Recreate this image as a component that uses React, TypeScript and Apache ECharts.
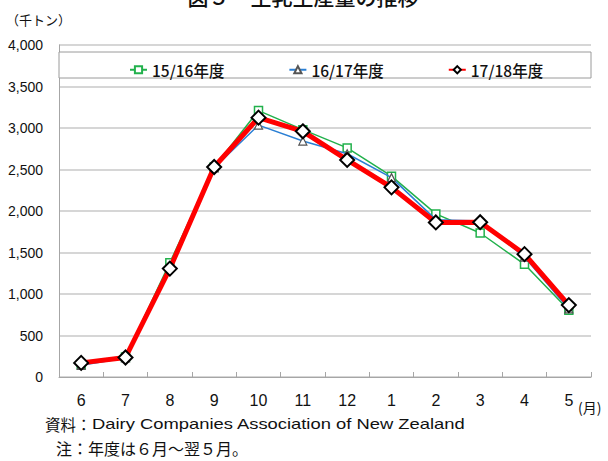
import React, { useEffect, useRef } from "react";
import * as echarts from "echarts";

const months = ["6", "7", "8", "9", "10", "11", "12", "1", "2", "3", "4", "5"];
const s1516 = [150, 240, 1378, 2530, 3210, 2980, 2760, 2420, 1965, 1735, 1358, 805];
const s1617 = [140, 230, 1330, 2520, 3035, 2843, 2690, 2402, 1896, 1880, 1445, 820];
const s1718 = [170, 235, 1306, 2530, 3125, 2960, 2615, 2285, 1862, 1865, 1480, 866];
const yTicks = [0, 500, 1000, 1500, 2000, 2500, 3000, 3500, 4000];
const seriesNames = ["15/16年度", "16/17年度", "17/18年度"];

const JP = '"Noto Sans CJK JP", "Noto Sans", sans-serif';
const ARIAL = '"Liberation Sans", Arial, "Noto Sans CJK JP", sans-serif';

export default function App() {
  const ref = useRef<HTMLDivElement>(null);
  useEffect(() => {
    if (!ref.current) return;
    const chart = echarts.init(ref.current, null, { renderer: "svg" });
    chart.setOption({
      animation: false,
      backgroundColor: "#ffffff",
      grid: { left: 59, right: 17, top: 45, bottom: 84, containLabel: false },
      legend: {
        left: 124,
        top: 57,
        itemGap: 64,
        itemWidth: 17,
        itemHeight: 9,
        data: seriesNames,
        textStyle: { fontFamily: JP, fontSize: 15.5, color: "#111", fontWeight: 500 },
        z: 10,
      },
      xAxis: {
        type: "category",
        data: months,
        boundaryGap: true,
        axisLine: { lineStyle: { color: "#a6a6a6", width: 1 } },
        axisTick: { show: true, inside: true, length: 5, lineStyle: { color: "#a6a6a6" } },
        axisLabel: { fontFamily: ARIAL, fontSize: 16, color: "#111", margin: 15 },
        splitLine: { show: false },
      },
      yAxis: {
        type: "value",
        min: yTicks[0],
        max: yTicks[yTicks.length - 1],
        interval: 500,
        axisLine: { show: true, lineStyle: { color: "#a6a6a6", width: 1 } },
        axisTick: { show: false },
        axisLabel: {
          fontFamily: ARIAL,
          fontSize: 14,
          color: "#111",
          margin: 16,
          formatter: (v: number) => v.toLocaleString("en-US"),
        },
        splitLine: { lineStyle: { color: "#c8c8c8", width: 1.5 } },
      },
      graphic: [
        {
          type: "rect",
          z: 5,
          shape: { x: 59, y: 52, width: 532, height: 26 },
          style: { fill: "#ffffff", stroke: "#9a9a9a", lineWidth: 1 },
        },
        {
          type: "text",
          x: 303,
          y: -4,
          style: {
            text: "図５　生乳生産量の推移",
            fontFamily: JP,
            fontSize: 21,
            fontWeight: 500,
            fill: "#111",
            textAlign: "center",
            textVerticalAlign: "middle",
          },
        },
        {
          type: "text",
          x: 6,
          y: 19,
          style: {
            text: "（千トン）",
            fontFamily: JP,
            fontSize: 13,
            fill: "#111",
            textVerticalAlign: "middle",
          },
        },
        {
          type: "text",
          x: 578,
          y: 407,
          style: {
            text: "(月)",
            fontFamily: JP,
            fontSize: 14,
            fill: "#111",
            textVerticalAlign: "middle",
          },
        },
        {
          type: "text",
          x: 45,
          y: 424,
          style: {
            text: "資料：",
            fontFamily: JP,
            fontSize: 15.5,
            fill: "#111",
            textVerticalAlign: "middle",
          },
        },
        {
          type: "text",
          x: 92,
          y: 424,
          scaleX: 1.225,
          style: {
            text: "Dairy Companies Association of New Zealand",
            fontFamily: ARIAL,
            fontSize: 15,
            fill: "#111",
            textVerticalAlign: "middle",
          },
        },
        {
          type: "text",
          x: 56,
          y: 448,
          style: {
            text: "注：年度は６月～翌５月。",
            fontFamily: JP,
            fontSize: 16,
            fill: "#111",
            textVerticalAlign: "middle",
          },
        },
      ],
      series: [
        {
          name: seriesNames[0],
          type: "line",
          data: s1516,
          symbol: "rect",
          symbolSize: 8,
          lineStyle: { color: "#22b14c", width: 1.5 },
          itemStyle: { color: "#ffffff", borderColor: "#22b14c", borderWidth: 1.5 },
          z: 2,
        },
        {
          name: seriesNames[1],
          type: "line",
          data: s1617,
          symbol: "triangle",
          symbolSize: 8,
          lineStyle: { color: "#2a7fd4", width: 1.5 },
          itemStyle: { color: "#ffffff", borderColor: "#555555", borderWidth: 1.2 },
          z: 3,
        },
        {
          name: seriesNames[2],
          type: "line",
          data: s1718,
          symbol: "diamond",
          symbolSize: 14,
          lineStyle: { color: "#ff0000", width: 5 },
          itemStyle: { color: "#ffffff", borderColor: "#000000", borderWidth: 2 },
          z: 4,
        },
      ],
    });
    return () => chart.dispose();
  }, []);
  return (
    <div
      ref={ref}
      style={{ position: "absolute", left: 0, top: 0, width: 608, height: 461 }}
    />
  );
}
